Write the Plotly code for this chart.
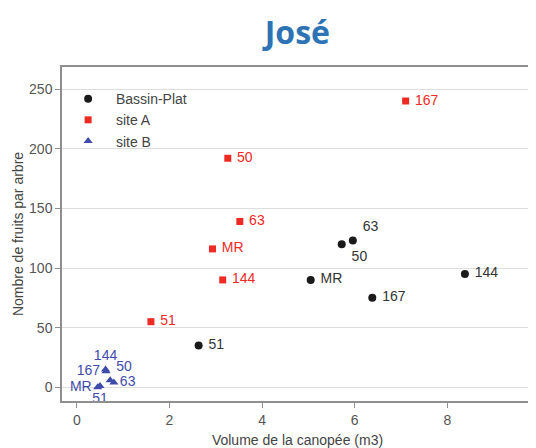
import plotly.graph_objects as go

# Data
bp_labels = ["51", "MR", "50", "63", "167", "144"]
bp_x = [2.63, 5.05, 5.72, 5.96, 6.38, 8.38]
bp_y = [35, 90, 120, 123, 75, 95]

a_labels = ["51", "144", "MR", "50", "63", "167"]
a_x = [1.6, 3.15, 2.93, 3.26, 3.52, 7.1]
a_y = [55, 90, 116, 192, 139, 240]

b_labels = ["MR", "51", "167", "144", "50", "63"]
b_x = [0.45, 0.5, 0.63, 0.62, 0.72, 0.8]
b_y = [0, 1, 13.5, 15, 6, 4]

x_ticks = [0, 2, 4, 6, 8]
y_ticks = [0, 50, 100, 150, 200, 250]

BLACK = "#1a1a1a"
RED = "#EE2A24"
BLUE = "#3F4BAA"
FONT = "Liberation Sans, Arial, sans-serif"
NB = "\u00a0"

fig = go.Figure()
fig.add_trace(go.Scatter(
    x=bp_x, y=bp_y, mode="markers+text", name=NB * 2 + "Bassin-Plat",
    text=[" " + t for t in bp_labels],
    textposition=["middle right", "middle right", "bottom right", "top right", "middle right", "middle right"],
    textfont=dict(color="#333333", size=14, family=FONT),
    marker=dict(symbol="circle", size=8, color=BLACK),
))
fig.add_trace(go.Scatter(
    x=a_x, y=a_y, mode="markers+text", name=NB * 2 + "site A",
    text=[" " + t for t in a_labels],
    textposition="middle right",
    textfont=dict(color=RED, size=14, family=FONT),
    marker=dict(symbol="square", size=7, color=RED),
))
fig.add_trace(go.Scatter(
    x=b_x, y=b_y, mode="markers+text", name=NB * 2 + "site B",
    text=b_labels,
    textposition=["middle left", "bottom center", "middle left", "top center", "top right", "middle right"],
    textfont=dict(color=BLUE, size=14, family=FONT),
    marker=dict(symbol="triangle-up", size=8, color=BLUE),
))

fig.update_layout(
    width=528, height=440,
    margin=dict(l=54, r=3, t=59, b=47),
    paper_bgcolor="white", plot_bgcolor="white",
    font=dict(family=FONT, color="#444444", size=14),
    title=dict(text="<b>José</b>", x=0.548, xanchor="center", y=0.943, yanchor="middle",
               yref="container",
               font=dict(family="Open Sans, Lato, sans-serif", size=32, color="#2E74B5")),
    showlegend=True,
    legend=dict(x=0.013, y=0.952, xanchor="left", yanchor="top", bgcolor="rgba(0,0,0,0)",
                font=dict(size=14, color="#444444", family=FONT), itemwidth=30),
    xaxis=dict(range=[-0.32, 9.85], tickvals=x_ticks, showgrid=False, zeroline=False,
               showline=True, linecolor="#8f8f8f", linewidth=1.5, mirror=True,
               ticks="outside", ticklen=5, tickcolor="#8f8f8f", automargin=False,
               tickfont=dict(size=14, color="#555555"),
               title=dict(text="Volume de la canopée (m3)", font=dict(size=14, color="#444444"), standoff=9)),
    yaxis=dict(range=[-11.5, 268.5], tickvals=y_ticks, showgrid=True, gridcolor="#dddddd", gridwidth=1,
               zeroline=False, showline=True, linecolor="#8f8f8f", linewidth=1.5, mirror=True,
               ticks="outside", ticklen=5, tickcolor="#8f8f8f", automargin=False,
               tickfont=dict(size=14, color="#555555"),
               title=dict(text="Nombre de fruits par arbre", font=dict(size=14, color="#444444"), standoff=2)),
)

fig.write_html("out.html")
